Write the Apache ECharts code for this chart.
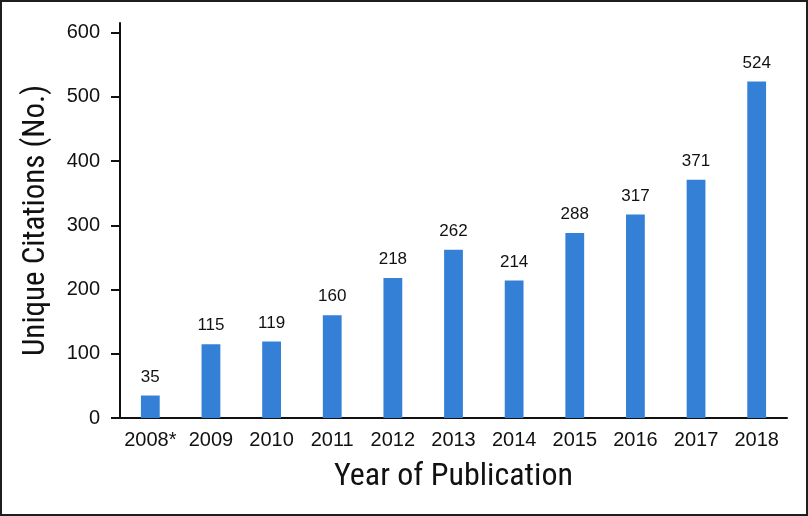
<!DOCTYPE html>
<html>
<head>
<meta charset="utf-8">
<script src="https://cdn.jsdelivr.net/npm/echarts@6/dist/echarts.min.js"></script>
<style>
html,body{margin:0;padding:0;background:#fff;}
#chart{width:808px;height:516px;}
</style>
</head>
<body>
<div id="chart"></div>
<script>
const categories = ['2008*','2009','2010','2011','2012','2013','2014','2015','2016','2017','2018'];
const citations = [35,115,119,160,218,262,214,288,317,371,524];
const yTicks = [0,100,200,300,400,500,600];

const titleFont = '"Roboto Condensed","DejaVu Sans Condensed","Liberation Sans Narrow",Roboto,sans-serif';
const labelFont = '"Liberation Sans",Arial,Helvetica,sans-serif';

const chart = echarts.init(document.getElementById('chart'), null, {renderer:'canvas'});
chart.setOption({
  animation:false,
  backgroundColor:'#fff',
  graphic:[{
    type:'rect', silent:true, z:100,
    shape:{x:1,y:1,width:806,height:514},
    style:{fill:null, stroke:'#1e1e1e', lineWidth:2}
  }],
  grid:{left:120,right:21,top:23,bottom:98,containLabel:false},
  xAxis:{
    type:'category',
    data:categories,
    name:'Year of Publication',
    nameLocation:'middle',
    nameGap:43,
    nameTextStyle:{fontFamily:titleFont,fontSize:32,color:'#111'},
    axisLine:{lineStyle:{color:'#111',width:2}},
    axisTick:{show:false},
    axisLabel:{fontFamily:labelFont,fontSize:20,color:'#111',margin:12,interval:0}
  },
  yAxis:{
    type:'value',
    min:0,max:615,
    name:'Unique Citations (No.)',
    nameLocation:'middle',
    nameGap:68,
    nameRotate:90,
    nameTextStyle:{fontFamily:titleFont,fontSize:31,color:'#111'},
    splitLine:{show:false},
    axisLine:{show:true,lineStyle:{color:'#111',width:2}},
    axisTick:{show:true,length:9,lineStyle:{color:'#111',width:2},customValues:yTicks},
    axisLabel:{fontFamily:labelFont,fontSize:20,color:'#111',margin:20,customValues:yTicks}
  },
  series:[{
    type:'bar',
    data:citations,
    barWidth:'31%',
    itemStyle:{color:'#3580d7'},
    label:{show:true,position:'top',distance:10,fontFamily:labelFont,fontSize:17,color:'#111'}
  }]
});
</script>
</body>
</html>
